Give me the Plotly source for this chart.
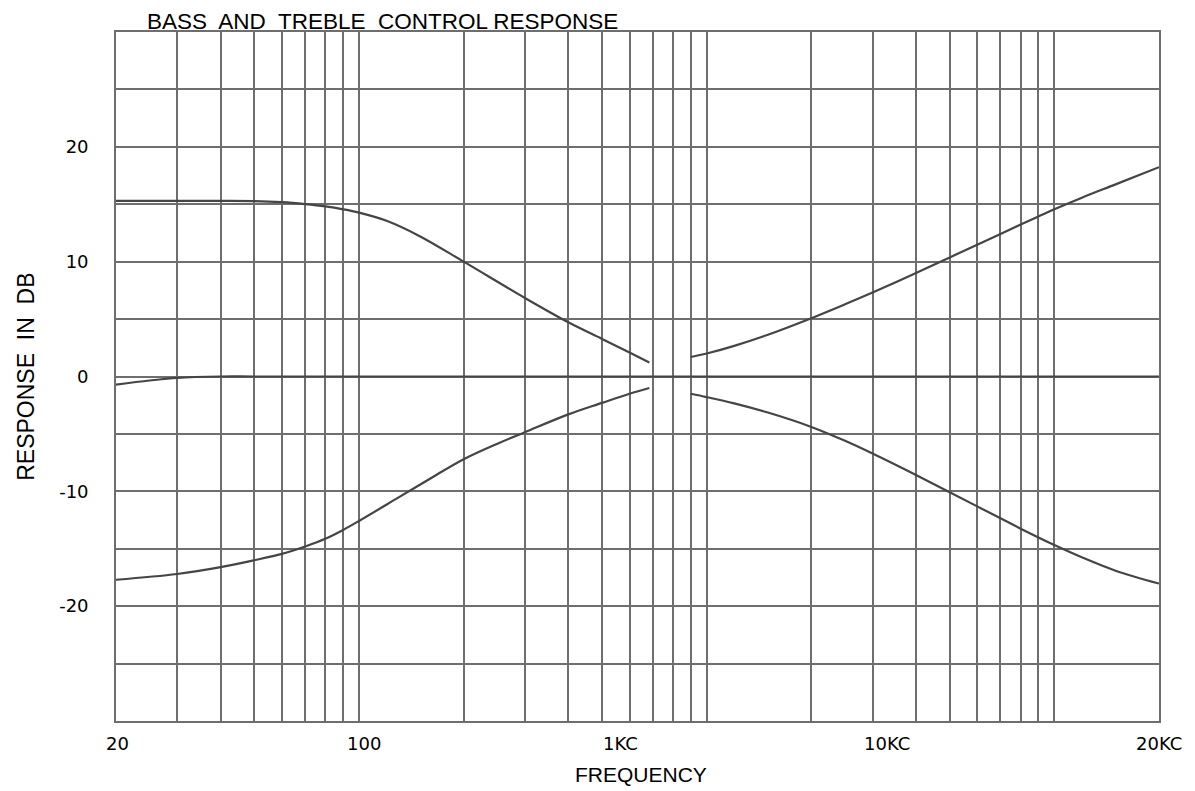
import plotly.graph_objects as go

# ---- data ----
flat_freq = [20, 25, 30, 40, 50, 100, 1000, 10000, 20000]
flat_db = [-0.7, -0.35, -0.12, 0.0, 0.0, 0.0, 0.0, 0.0, 0.0]

bass_boost_freq = [20, 30, 40, 50, 60, 70, 80, 90, 100, 120, 150, 200, 300, 400, 500, 600, 684]
bass_boost_db = [15.3, 15.3, 15.3, 15.28, 15.18, 15.01, 14.81, 14.56, 14.27, 13.56, 12.2, 10.0,
                 6.84, 4.72, 3.27, 2.08, 1.22]

bass_cut_freq = [20, 30, 40, 50, 60, 70, 80, 90, 100, 130, 160, 200, 250, 300, 400, 500, 600, 684]
bass_cut_db = [-17.7, -17.2, -16.6, -16.0, -15.45, -14.8, -14.13, -13.36, -12.58, -10.53, -8.9, -7.2,
               -5.85, -4.85, -3.3, -2.3, -1.5, -1.0]

treble_boost_freq = [900, 1000, 1200, 1500, 2000, 2500, 3000, 4000, 5000, 6000, 7000, 8000, 9000,
                     10000, 12000, 15000, 20000]
treble_boost_db = [1.7, 2.0, 2.67, 3.64, 5.08, 6.29, 7.32, 9.01, 10.37, 11.48, 12.42, 13.23, 13.94,
                   14.56, 15.57, 16.73, 18.23]

treble_cut_freq = [900, 1000, 1200, 1500, 2000, 2500, 3000, 4000, 5000, 6000, 7000, 8000, 9000,
                   10000, 12000, 15000, 20000]
treble_cut_db = [-1.5, -1.79, -2.34, -3.14, -4.39, -5.6, -6.71, -8.58, -10.08, -11.31, -12.35, -13.25,
                 -14.02, -14.68, -15.75, -16.91, -18.03]

grid_freqs = [20, 30, 40, 50, 60, 70, 80, 90, 100,
              200, 300, 400, 500, 600, 700, 800, 900, 1000,
              2000, 3000, 4000, 5000, 6000, 7000, 8000, 9000, 10000, 20000]
y_grid = [-30, -25, -20, -15, -10, -5, 0, 5, 10, 15, 20, 25, 30]
y_labels = ["", "", "-20", "", "-10", "", "0", "", "10", "", "20", "", ""]
x_labels = ["20", "100", "1KC", "10KC", "20KC"]

# ---- layout constants ----
x_label_pos = [0.001, 0.238, 0.484, 0.739, 1.0]   # paper fractions, as placed in the original
LINE = "#454545"
GRID = "#6e6e6e"
FONT = "Liberation Sans, Arial, sans-serif"
TICKFONT = "DejaVu Sans, Liberation Sans, sans-serif"

fig = go.Figure()
for fx, fy in [(flat_freq, flat_db), (bass_boost_freq, bass_boost_db), (bass_cut_freq, bass_cut_db),
               (treble_boost_freq, treble_boost_db), (treble_cut_freq, treble_cut_db)]:
    fig.add_trace(go.Scatter(x=fx, y=fy, mode="lines",
                             line=dict(color=LINE, width=2.2, shape="spline", smoothing=1.0),
                             showlegend=False, hoverinfo="x+y"))

fig.update_layout(
    width=1195, height=791,
    margin=dict(l=108, r=44, t=24, b=78),
    paper_bgcolor="white", plot_bgcolor="white",
    font=dict(family=FONT, color="black", size=16),
    xaxis=dict(type="log", range=[1.30103, 4.30103], tickvals=grid_freqs, showticklabels=False,
               showgrid=True, gridcolor=GRID, gridwidth=1.5, ticks="",
               showline=True, mirror=True, linecolor=GRID, linewidth=1.7, zeroline=False),
    yaxis=dict(range=[-30, 30], tickvals=y_grid, ticktext=y_labels, ticks="",
               showgrid=True, gridcolor=GRID, gridwidth=1.5, zeroline=False,
               showline=True, mirror=True, linecolor=GRID, linewidth=1.7,
               tickfont=dict(size=18, family=TICKFONT, color="black"), ticklabelstandoff=22),
)

for txt, xp in zip(x_labels, x_label_pos):
    fig.add_annotation(text=txt, xref="paper", yref="paper", x=xp, y=0, yshift=-22,
                       xanchor="center", yanchor="middle", showarrow=False,
                       font=dict(size=18, family=TICKFONT, color="black"))

fig.add_annotation(text="FREQUENCY", xref="paper", yref="paper", x=0.503, y=0, yshift=-53,
                   xanchor="center", yanchor="middle", showarrow=False,
                   font=dict(size=21, family=FONT, color="black"))
fig.add_annotation(text="RESPONSE  IN  DB", xref="paper", yref="paper", x=-0.087, y=0.5,
                   xanchor="center", yanchor="middle", textangle=-90, showarrow=False,
                   font=dict(size=23, family=FONT, color="black"))
fig.add_annotation(text="BASS  AND  TREBLE  CONTROL RESPONSE", xref="paper", yref="paper",
                   x=0.028, y=1, yshift=11, xanchor="left", yanchor="middle", showarrow=False,
                   font=dict(size=22.5, family=FONT, color="black"))

fig.write_html("out.html")
